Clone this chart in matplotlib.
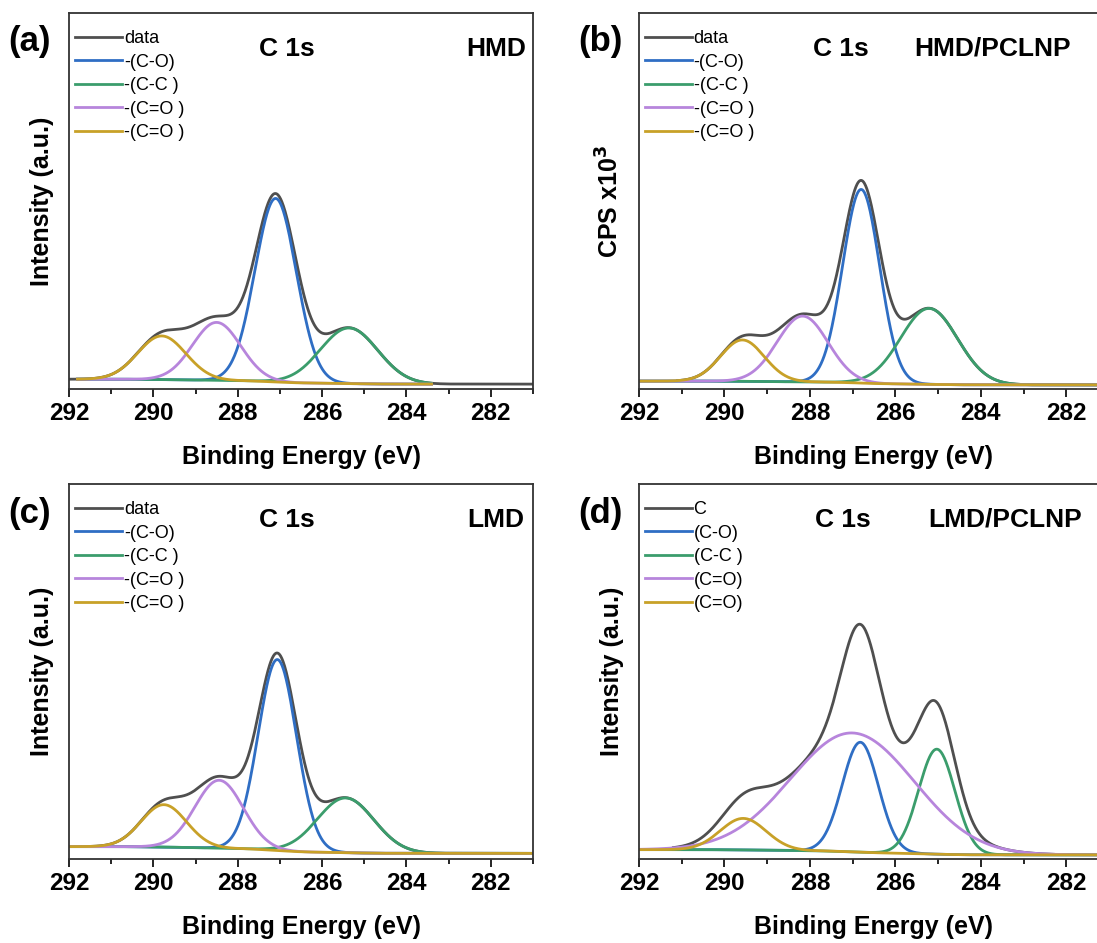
import numpy as np
import matplotlib.pyplot as plt
from matplotlib.ticker import MultipleLocator

plt.rcParams['font.family'] = ['Liberation Sans', 'DejaVu Sans']

# XPS C 1s fits, peaks in order: C-O, C-C, C=O, C=O
# heights are fractions of the axis height, bg = (low BE side, high BE side)
hmd_center = [287.10, 285.36, 288.50, 289.80]
hmd_height = [0.488, 0.148, 0.154, 0.116]
hmd_fwhm = [1.15, 1.60, 1.34, 1.34]
hmd_bg = [0.013, 0.026]

hmdp_center = [286.80, 285.21, 288.17, 289.58]
hmdp_height = [0.515, 0.202, 0.175, 0.110]
hmdp_fwhm = [1.02, 1.57, 1.40, 1.20]
hmdp_bg = [0.011, 0.021]

lmd_center = [287.06, 285.44, 288.44, 289.75]
lmd_height = [0.509, 0.146, 0.181, 0.113]
lmd_fwhm = [1.07, 1.58, 1.34, 1.26]
lmd_bg = [0.015, 0.033]

lmdp_center = [286.82, 285.03, 287.00, 289.56]
lmdp_height = [0.293, 0.280, 0.317, 0.084]
lmdp_fwhm = [1.00, 1.00, 3.40, 1.26]
lmdp_bg = [0.011, 0.025]

# energy ranges (eV) of the measured data and of the fitted components
data_range = [(281.0, 292.0), (281.0, 291.1), (281.0, 291.8), (282.3, 291.2)]
comp_range = [(283.4, 291.8), (280.5, 292.0), (281.0, 292.0), (280.5, 292.0)]

labels_std = ["data", "-(C-O)", "-(C-C )", "-(C=O )", "-(C=O )"]
labels_d = ["C", "(C-O)", "(C-C )", "(C=O)", "(C=O)"]
colors = ["#4f4f4f", "#2f6ec4", "#3b9d6c", "#b785dc", "#c8a128"]

panels = [
    dict(tag="(a)", name="HMD", c=hmd_center, h=hmd_height, w=hmd_fwhm, bg=hmd_bg,
         ylabel="Intensity (a.u.)", labels=labels_std, box=(69, 13, 533, 389), t1=0.47, t2=0.92),
    dict(tag="(b)", name="HMD/PCLNP", c=hmdp_center, h=hmdp_height, w=hmdp_fwhm, bg=hmdp_bg,
         ylabel=r"CPS x10$^\mathbf{3}$", labels=labels_std, box=(639, 13, 1109, 389), t1=0.43, t2=0.753),
    dict(tag="(c)", name="LMD", c=lmd_center, h=lmd_height, w=lmd_fwhm, bg=lmd_bg,
         ylabel="Intensity (a.u.)", labels=labels_std, box=(69, 484, 533, 859), t1=0.47, t2=0.92),
    dict(tag="(d)", name="LMD/PCLNP", c=lmdp_center, h=lmdp_height, w=lmdp_fwhm, bg=lmdp_bg,
         ylabel="Intensity (a.u.)", labels=labels_d, box=(639, 484, 1109, 859), t1=0.434, t2=0.779),
]

W, H = 1097, 943
fig = plt.figure(figsize=(W / 100, H / 100), dpi=100)

energy = np.linspace(280.5, 292.0, 1200)

def gauss(x, c, h, fwhm):
    s = fwhm / 2.3548
    return h * np.exp(-0.5 * ((x - c) / s) ** 2)

for i, p in enumerate(panels):
    l, t, r, b = p["box"]
    ax = fig.add_axes([l / W, 1 - b / H, (r - l) / W, (b - t) / H])

    comps = [gauss(energy, c, h, w) for c, h, w in zip(p["c"], p["h"], p["w"])]
    total = np.sum(comps, axis=0)
    # shirley-like step background, higher on the high binding energy side
    cum = np.cumsum(total)
    bg = p["bg"][0] + (p["bg"][1] - p["bg"][0]) * cum / cum[-1]

    lo, hi = data_range[i]
    m = (energy >= lo) & (energy <= hi)
    ax.plot(energy[m], (bg + total)[m], color=colors[0], lw=2.0, label=p["labels"][0])
    lo, hi = comp_range[i]
    m = (energy >= lo) & (energy <= hi)
    for k, comp in enumerate(comps):
        ax.plot(energy[m], (bg + comp)[m], color=colors[k + 1], lw=2.0, label=p["labels"][k + 1])

    ax.set_xlim(292, 281)
    ax.set_ylim(0, 1)
    ax.set_yticks([])
    ax.xaxis.set_major_locator(MultipleLocator(2))
    ax.xaxis.set_minor_locator(MultipleLocator(1))
    ax.tick_params(axis="x", which="major", direction="out", length=6, width=1.2, pad=3, labelsize=17.5)
    ax.tick_params(axis="x", which="minor", direction="out", length=3.5, width=1.2)
    for tl in ax.get_xticklabels():
        tl.set_fontweight("bold")
    for sp in ax.spines.values():
        sp.set_linewidth(1.3)
        sp.set_color("#333333")

    ax.set_xlabel("Binding Energy (eV)", fontsize=18, fontweight="bold", labelpad=15)
    ax.set_ylabel(p["ylabel"], fontsize=18, fontweight="bold", labelpad=11)

    ax.text(p["t1"], 0.905, "C 1s", transform=ax.transAxes, ha="center", va="center",
            fontsize=19, fontweight="bold")
    ax.text(p["t2"], 0.905, p["name"], transform=ax.transAxes, ha="center", va="center",
            fontsize=19, fontweight="bold")
    fig.text((l - 39) / W, 1 - (t + 29) / H, p["tag"], ha="center", va="center",
             fontsize=25, fontweight="bold")

    ax.legend(loc="upper left", bbox_to_anchor=(-0.024, 1.0), frameon=False, fontsize=13,
              handlelength=2.6, handletextpad=0.1, labelspacing=0.36, borderaxespad=0.0,
              borderpad=0.95)

fig.savefig("out.png", dpi=100)
